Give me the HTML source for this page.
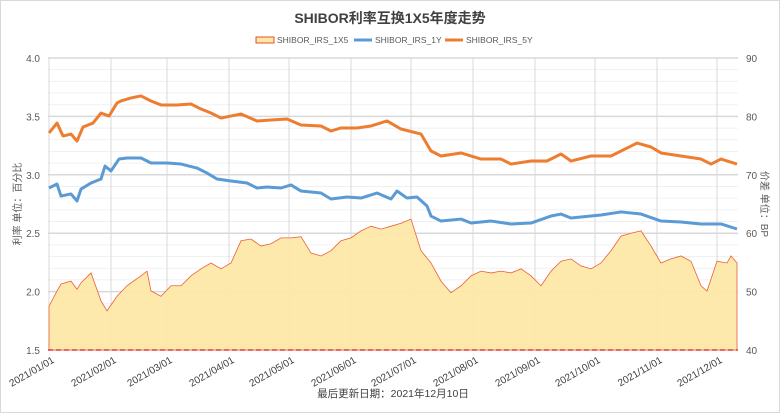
<!DOCTYPE html>
<html><head><meta charset="utf-8"><style>
body{margin:0;background:#fff;font-family:"Liberation Sans","Noto Sans CJK SC",sans-serif}
#wrap{position:relative;width:778px;height:411px;border:1px solid #d9d9d9;background:#fff}
</style></head><body>
<div id="wrap">
<svg id="chart" width="778" height="411"></svg>
</div>
<script>
const days1x5=[0,4,6,11,14,16,21,26,29,34,39,46,49,51,56,61,66,71,76,81,86,91,96,101,106,111,116,121,126,131,136,141,146,151,156,161,166,171,176,181,186,191,196,201,206,211,216,221,226,231,236,241,246,251,256,261,266,271,276,281,286,291,296,301,306,311,316,321,326,329,334,339,341,344];
const vals1x5=[47.5,50.1,51.3,51.8,50.4,51.5,53.2,48.4,46.7,49.2,51.0,52.7,53.5,50.1,49.2,51.0,51.0,52.7,53.9,54.9,53.9,54.9,58.7,59.0,57.8,58.2,59.2,59.2,59.4,56.6,56.1,57.0,58.7,59.2,60.4,61.2,60.7,61.2,61.7,62.4,57.0,54.9,51.8,49.8,51.0,52.7,53.5,53.2,53.5,53.2,53.9,52.7,51.0,53.5,55.2,55.6,54.4,53.9,54.9,57.0,59.5,60.0,60.4,57.8,54.9,55.6,56.1,55.2,51.0,50.1,55.2,54.9,56.1,54.9];
const days1y=[0,4,6,11,14,16,21,26,28,31,35,39,46,51,59,66,74,79,84,91,99,104,109,116,121,126,136,141,149,156,164,171,174,179,184,189,191,196,206,211,221,231,241,251,256,261,276,286,296,306,316,326,336,344];
const vals1y=[2.887,2.921,2.818,2.836,2.776,2.878,2.930,2.964,3.075,3.033,3.135,3.144,3.144,3.101,3.101,3.092,3.058,3.015,2.964,2.947,2.930,2.887,2.896,2.887,2.913,2.861,2.844,2.793,2.810,2.801,2.844,2.793,2.861,2.801,2.810,2.733,2.647,2.604,2.621,2.587,2.604,2.579,2.587,2.647,2.664,2.630,2.656,2.682,2.664,2.604,2.596,2.579,2.579,2.536];
const days5y=[0,4,7,11,14,17,22,26,30,34,36,41,46,51,56,64,71,76,81,86,96,104,111,119,126,136,141,146,154,161,169,176,186,191,196,206,216,226,231,241,249,256,261,271,281,289,294,301,306,316,326,331,336,344];
const vals5y=[3.358,3.443,3.332,3.349,3.289,3.409,3.443,3.529,3.503,3.615,3.632,3.658,3.675,3.632,3.598,3.598,3.606,3.563,3.529,3.486,3.521,3.461,3.469,3.478,3.426,3.418,3.375,3.401,3.401,3.418,3.461,3.392,3.349,3.204,3.161,3.187,3.135,3.135,3.092,3.118,3.118,3.178,3.118,3.161,3.161,3.229,3.272,3.238,3.187,3.161,3.135,3.092,3.135,3.092];
const monthDays=[0,31,59,90,120,151,181,212,243,273,304,334];
const monthLabels=["2021/01/01","2021/02/01","2021/03/01","2021/04/01","2021/05/01","2021/06/01","2021/07/01","2021/08/01","2021/09/01","2021/10/01","2021/11/01","2021/12/01"];
const leftTicks=[1.5,2.0,2.5,3.0,3.5,4.0];
const rightTicks=[40,50,60,70,80,90];

const NS="http://www.w3.org/2000/svg";
const svg=document.getElementById('chart');
const L=47,R=737,T=57,B=349;
const x=d=>L+1+d*2;
const yl=v=>B-(v-1.5)/2.5*(B-T);
const yr=v=>B-(v-40)/50*(B-T);
function mk(tag,attrs,parent){const e=document.createElementNS(NS,tag);for(const k in attrs)e.setAttribute(k,attrs[k]);(parent||svg).appendChild(e);return e;}
for(let v=1.6;v<4.0;v+=0.1){const g=mk('line',{x1:L,x2:R,y1:yl(v),y2:yl(v),stroke:'#f0f0f0','stroke-width':1});

}
leftTicks.forEach(v=>{const g=mk('line',{x1:L,x2:R,y1:yl(v),y2:yl(v),stroke:'#d9d9d9','stroke-width':1.5});


const t=mk('text',{x:L-8,y:yl(v)+4,'text-anchor':'end','font-size':10,fill:'#595959'});t.textContent=v.toFixed(1);

});
rightTicks.forEach(v=>{const t=mk('text',{x:R+8,y:yr(v)+4,'font-size':10,fill:'#595959'});t.textContent=v;

});
monthDays.forEach((d,i)=>{const g=mk('line',{x1:x(d),x2:x(d),y1:T,y2:B,stroke:'#d9d9d9','stroke-width':1});


const t=mk('text',{x:x(d)+6,y:B+12,'text-anchor':'end','font-size':10,fill:'#404040',transform:`rotate(-30 ${x(d)+6} ${B+12})`});t.textContent=monthLabels[i];

});
let p=`M${x(days1x5[0])},${yr(40)}`;days1x5.forEach((d,i)=>p+=` L${x(d)},${yr(vals1x5[i])}`);p+=` L${x(days1x5[days1x5.length-1])},${yr(40)} Z`;
const a=mk('path',{d:p,fill:'#fde8a6','fill-opacity':0.95,stroke:'#e8603c','stroke-width':0.8});


const bl=mk('line',{x1:L,x2:R,y1:B,y2:B,stroke:'#e02020','stroke-width':1.2,'stroke-dasharray':'5,3'});


function line(days,vals,color,name){const pts=days.map((d,i)=>`${x(d)},${yl(vals[i])}`).join(' ');
const e=mk('polyline',{points:pts,fill:'none',stroke:color,'stroke-width':3,'stroke-linejoin':'round'});

}
line(days1y,vals1y,'#5b9bd5','line-series-1y');
line(days5y,vals5y,'#ed7d31','line-series-5y');
const ti=mk('text',{x:389,y:22,'text-anchor':'middle','font-size':14,'font-weight':'bold',fill:'#404040'});ti.textContent='SHIBOR利率互换1X5年度走势';


const lg=[['SHIBOR_IRS_1X5',255,'area'],['SHIBOR_IRS_1Y',353,'#5b9bd5'],['SHIBOR_IRS_5Y',444,'#ed7d31']];
lg.forEach(([n,lx,c])=>{
if(c==='area'){const r=mk('rect',{x:lx,y:36,width:18,height:6,fill:'#fde8a6',stroke:'#e05030','stroke-width':1});

}
else{const r=mk('line',{x1:lx,x2:lx+18,y1:39,y2:39,stroke:c,'stroke-width':3});

}
const t=mk('text',{x:lx+21,y:42,'font-size':8.5,fill:'#595959'});t.textContent=n;

});
const lt=mk('text',{x:20,y:203,'text-anchor':'middle','font-size':10,fill:'#595959',transform:'rotate(-90 20 203)'});lt.textContent='利率 单位：百分比';


const rt=mk('text',{x:760,y:203,'text-anchor':'middle','font-size':10,fill:'#595959',transform:'rotate(90 760 203)'});rt.textContent='价差 单位：BP';


const ft=mk('text',{x:392,y:396,'text-anchor':'middle','font-size':10.5,fill:'#404040'});ft.textContent='最后更新日期：2021年12月10日';


</script>
</body></html>
